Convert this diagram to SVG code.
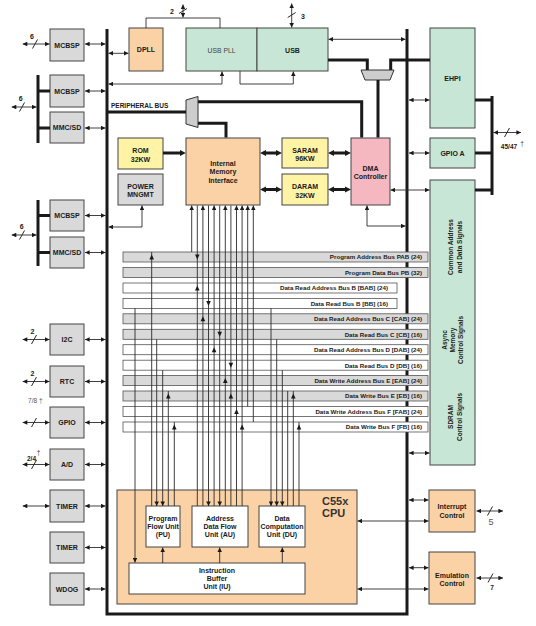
<svg xmlns="http://www.w3.org/2000/svg" width="536" height="626" viewBox="0 0 536 626">
<defs>
<marker id="a" viewBox="0 0 10 10" refX="10" refY="5" markerWidth="5" markerHeight="4.6" markerUnits="userSpaceOnUse" orient="auto-start-reverse"><path d="M0,0L10,5L0,10z" fill="#1a1a1a"/></marker>
<marker id="b" viewBox="0 0 10 10" refX="2" refY="5" markerWidth="6" markerHeight="6.5" markerUnits="userSpaceOnUse" orient="auto-start-reverse"><path d="M0,0L10,5L0,10z" fill="#1a1a1a"/></marker>
<style>
.t{font-family:"Liberation Sans",Arial,sans-serif;font-weight:bold;font-size:7px;fill:#1a1a1a;text-anchor:middle}
.gr{fill:#d9d9d9;stroke:#444;stroke-width:1}
.or{fill:#fbd2a5;stroke:#444;stroke-width:1}
.gn{fill:#c8e6d5;stroke:#444;stroke-width:1}
.ye{fill:#fff4a6;stroke:#444;stroke-width:1}
.pk{fill:#f5b7c0;stroke:#444;stroke-width:1}
.wh{fill:#fff;stroke:#444;stroke-width:1}
.mx{fill:#cdcdcd;stroke:#333;stroke-width:1}
.rg{fill:#d9d9d9;stroke:#555;stroke-width:0.8}
.rw{fill:#fff;stroke:#555;stroke-width:0.8}
.rt{font-family:"Liberation Sans",Arial,sans-serif;font-weight:bold;font-size:6.2px;fill:#1a1a1a;text-anchor:end}
.k{stroke:#1a1a1a;stroke-width:3;fill:none}
.n{stroke:#2a2a2a;stroke-width:0.9;fill:none}
.d{marker-start:url(#a);marker-end:url(#a)}
.e{marker-end:url(#a)}
.s{marker-start:url(#a)}
.bb{marker-start:url(#b);marker-end:url(#b)}
.be{marker-end:url(#b)}
.tri{fill:#1a1a1a}
.lb{font-family:"Liberation Sans",Arial,sans-serif;font-weight:bold;font-size:7px;fill:#1a1a1a;text-anchor:middle}
.lr{font-family:"Liberation Sans",Arial,sans-serif;font-size:6.5px;fill:#555;text-anchor:middle}
</style>
</defs>
<rect width="536" height="626" fill="#fff"/>

<g id="backbone" class="k">
<path d="M107,29V614H407V29"/>
</g>

<!-- left peripherals -->
<g id="mcbsp0"><rect class="gr" x="50" y="29" width="34" height="32"/><text class="t" x="67" y="47.5">MCBSP</text></g>
<g id="mcbsp1"><rect class="gr" x="50" y="75" width="34" height="32"/><text class="t" x="67" y="93.5">MCBSP</text></g>
<g id="mmcsd1"><rect class="gr" x="50" y="112" width="34" height="31"/><text class="t" x="67" y="130">MMC/SD</text></g>
<g id="mcbsp2"><rect class="gr" x="50" y="200" width="34" height="31"/><text class="t" x="67" y="218">MCBSP</text></g>
<g id="mmcsd2"><rect class="gr" x="50" y="237" width="34" height="31"/><text class="t" x="67" y="255">MMC/SD</text></g>
<g id="i2c"><rect class="gr" x="50" y="324" width="34" height="31"/><text class="t" x="67" y="342">I2C</text></g>
<g id="rtc"><rect class="gr" x="50" y="366" width="34" height="31"/><text class="t" x="67" y="384">RTC</text></g>
<g id="gpio"><rect class="gr" x="50" y="407" width="34" height="31"/><text class="t" x="67" y="425">GPIO</text></g>
<g id="ad"><rect class="gr" x="50" y="449" width="34" height="31"/><text class="t" x="67" y="467">A/D</text></g>
<g id="timer0"><rect class="gr" x="50" y="490" width="34" height="32"/><text class="t" x="67" y="508.5">TIMER</text></g>
<g id="timer1"><rect class="gr" x="50" y="532" width="34" height="31"/><text class="t" x="67" y="550">TIMER</text></g>
<g id="wdog"><rect class="gr" x="50" y="573" width="34" height="32"/><text class="t" x="67" y="591.5">WDOG</text></g>

<!-- top blocks -->
<g id="dpll"><rect class="or" x="129" y="28" width="34" height="43"/><text class="t" x="146" y="52">DPLL</text></g>
<g id="usbpll"><rect class="gn" x="186" y="28" width="71" height="43"/><text class="t" x="221.5" y="53" style="font-weight:normal;fill:#444;font-size:6.8px">USB PLL</text></g>
<g id="usb"><rect class="gn" x="257" y="28" width="71" height="43"/><text class="t" x="292.5" y="53">USB</text></g>
<g id="ehpi"><rect class="gn" x="430" y="28" width="45" height="100"/><text class="t" x="452.5" y="81">EHPI</text></g>
<g id="gpioa"><rect class="gn" x="430" y="138" width="45" height="30"/><text class="t" x="452.5" y="155.5">GPIO A</text></g>
<g id="extif"><rect class="gn" x="430" y="180" width="45" height="285"/>
<text class="t" font-size="6.5" style="font-size:6.5px" transform="translate(453,247) rotate(-90)">Common Address</text>
<text class="t" style="font-size:6.5px" transform="translate(461.5,247) rotate(-90)">and Data Signals</text>
<text class="t" style="font-size:6.5px" transform="translate(446.5,340) rotate(-90)">Async</text>
<text class="t" style="font-size:6.5px" transform="translate(455,340) rotate(-90)">Memory</text>
<text class="t" style="font-size:6.5px" transform="translate(463.3,340) rotate(-90)">Control Signals</text>
<text class="t" style="font-size:6.5px" transform="translate(452.5,417) rotate(-90)">SDRAM</text>
<text class="t" style="font-size:6.5px" transform="translate(461.5,417) rotate(-90)">Control Signals</text>
</g>
<g id="rom"><rect class="ye" x="118" y="138" width="45" height="31"/><text class="t" x="140.5" y="153">ROM</text><text class="t" x="140.5" y="161.5">32KW</text></g>
<g id="power"><rect class="gr" x="118" y="174" width="45" height="31"/><text class="t" x="140.5" y="188.5">POWER</text><text class="t" x="140.5" y="197">MNGMT</text></g>
<g id="imi"><rect class="or" x="186" y="138" width="74" height="67"/><text class="t" x="223" y="165.8">Internal</text><text class="t" x="223" y="174.2">Memory</text><text class="t" x="223" y="182.5">Interface</text></g>
<g id="saram"><rect class="ye" x="282" y="138" width="46" height="30"/><text class="t" x="305" y="152.5">SARAM</text><text class="t" x="305" y="161">96KW</text></g>
<g id="daram"><rect class="ye" x="282" y="174" width="46" height="31"/><text class="t" x="305" y="189">DARAM</text><text class="t" x="305" y="197.5">32KW</text></g>
<g id="dma"><rect class="pk" x="351" y="138" width="39" height="67"/><text class="t" x="370.5" y="170.5">DMA</text><text class="t" x="370.5" y="179">Controller</text></g>
<g id="mux-periph"><path class="mx" d="M186,100L198,96.5V127.5L186,124Z"/></g>
<g id="mux-usb"><path class="mx" d="M361,70H394L390,80H365Z"/></g>

<!-- buses -->
<g id="bus-pab"><rect class="rg" x="123" y="252" width="305" height="10"/><text class="rt" x="422" y="259.3">Program Address Bus PAB (24)</text></g>
<g id="bus-pb"><rect class="rg" x="123" y="267.5" width="305" height="10"/><text class="rt" x="422" y="274.8">Program Data Bus PB (32)</text></g>
<g id="bus-bab"><rect class="rw" x="123" y="283" width="274" height="10"/><text class="rt" x="388" y="290.3">Data Read Address Bus B [BAB] (24)</text></g>
<g id="bus-bb"><rect class="rw" x="123" y="298.4" width="274" height="10"/><text class="rt" x="388" y="305.7">Data Read Bus B [BB] (16)</text></g>
<g id="bus-cab"><rect class="rg" x="123" y="313.8" width="305" height="10"/><text class="rt" x="422" y="321.1">Data Read Address Bus C [CAB] (24)</text></g>
<g id="bus-cb"><rect class="rg" x="123" y="329.3" width="305" height="10"/><text class="rt" x="422" y="336.6">Data Read Bus C [CB] (16)</text></g>
<g id="bus-dab"><rect class="rw" x="123" y="344.7" width="305" height="10"/><text class="rt" x="422" y="352">Data Read Address Bus D [DAB] (24)</text></g>
<g id="bus-db"><rect class="rw" x="123" y="360.2" width="305" height="10"/><text class="rt" x="422" y="367.5">Data Read Bus D [DB] (16)</text></g>
<g id="bus-eab"><rect class="rg" x="123" y="375.6" width="305" height="10"/><text class="rt" x="422" y="382.9">Data Write Address Bus E [EAB] (24)</text></g>
<g id="bus-eb"><rect class="rg" x="123" y="391" width="305" height="10"/><text class="rt" x="422" y="398.3">Data Write Bus E [EB] (16)</text></g>
<g id="bus-fab"><rect class="rw" x="123" y="406.5" width="305" height="10"/><text class="rt" x="422" y="413.8">Data Write Address Bus F [FAB] (24)</text></g>
<g id="bus-fb"><rect class="rw" x="123" y="422" width="305" height="10"/><text class="rt" x="422" y="429.3">Data Write Bus F [FB] (16)</text></g>

<!-- CPU -->
<g id="cpu"><rect class="or" x="117" y="490" width="240" height="114"/><text x="322" y="505" style="font-family:'Liberation Sans',Arial,sans-serif;font-weight:bold;font-size:11px;fill:#333">C55x</text><text x="322" y="517" style="font-family:'Liberation Sans',Arial,sans-serif;font-weight:bold;font-size:11px;fill:#333">CPU</text></g>
<g id="pu"><rect class="wh" x="146" y="506" width="34" height="41"/><text class="t" x="163" y="520.8">Program</text><text class="t" x="163" y="529.1">Flow Unit</text><text class="t" x="163" y="537.4">(PU)</text></g>
<g id="au"><rect class="wh" x="192" y="506" width="56" height="41"/><text class="t" x="220" y="520.8">Address</text><text class="t" x="220" y="529.1">Data Flow</text><text class="t" x="220" y="537.4">Unit (AU)</text></g>
<g id="du"><rect class="wh" x="259" y="506" width="46" height="41"/><text class="t" x="282" y="520.8">Data</text><text class="t" x="282" y="529.1">Computation</text><text class="t" x="282" y="537.4">Unit (DU)</text></g>
<g id="iu"><rect class="wh" x="129" y="563" width="176" height="31"/><text class="t" x="217" y="572.5">Instruction</text><text class="t" x="217" y="580.8">Buffer</text><text class="t" x="217" y="589.1">Unit (IU)</text></g>
<g id="intctl"><rect class="or" x="429" y="490" width="46" height="42"/><text class="t" x="452" y="509">Interrupt</text><text class="t" x="452" y="517.5">Control</text></g>
<g id="emuctl"><rect class="or" x="429" y="552" width="46" height="52"/><text class="t" x="452" y="577.5">Emulation</text><text class="t" x="452" y="585.8">Control</text></g>

<g id="connectors">
<!-- peripheral to bus -->
<g class="n d">
<path d="M85,44H105.5"/><path d="M85,91H105.5"/><path d="M85,128H105.5"/><path d="M85,215.5H105.5"/><path d="M85,252.5H105.5"/>
<path d="M85,339.5H105.5"/><path d="M85,381.5H105.5"/><path d="M85,422.5H105.5"/><path d="M85,464.5H105.5"/><path d="M85,506H105.5"/><path d="M85,547.5H105.5"/><path d="M85,589H105.5"/>
<path d="M22.7,44H49.5"/><path d="M11.7,107H36.5"/><path d="M11.7,235H36.5"/>
<path d="M22.7,339.5H49.5"/><path d="M22.7,381.5H49.5"/><path d="M22.7,422.5H49.5"/><path d="M22.7,464.5H49.5"/><path d="M22.7,506H49.5"/>
<path d="M108.5,53.3H128.5"/>
<path d="M183,4.5V17.5"/><path d="M291.7,3.5V27.5"/>
<path d="M108.5,84H222V71.5"/>
<path d="M328.5,39.3H405.5"/>
<path d="M409,100H429.5"/><path d="M409,153H429.5"/>
<path d="M493.5,132.5H521"/>
<path d="M390.5,190H429.5"/>
<path d="M367,205.5V226H405.5"/>
<path d="M142,205.5V227H108.5"/>
<path d="M409,453H429.5"/>
<path d="M409,500H428.5"/><path d="M409,567.7H428.5"/>
<path d="M357.5,521H428.5"/><path d="M357.5,589H428.5"/>
<path d="M476.5,511H503"/><path d="M476.5,578H503"/>
</g>
<path class="n e" d="M240,71V84H293.3V71.5"/>
<path class="n" d="M146,28V18H220V28"/>
<!-- slashes -->
<g class="n" style="stroke-width:1">
<path d="M32.5,48.5L37.5,39.5"/><path d="M19.5,111.5L24.5,102.5"/><path d="M19.5,239.5L24.5,230.5"/>
<path d="M31.5,344L36.5,335"/><path d="M31.5,386L36.5,377"/><path d="M31.5,427L36.5,418"/><path d="M31.5,469L36.5,460"/>
<path d="M179,13.5L187,8.5"/><path d="M287.7,17.5L295.7,12.5"/>
<path d="M504.5,137L509.5,128"/><path d="M487.5,515.5L492.5,506.5"/><path d="M488,582.5L493,573.5"/>
</g>
<!-- thick -->
<g class="k">
<path d="M38,75V143"/><path d="M38,91H50"/><path d="M38,128H50"/>
<path d="M38,200V266"/><path d="M38,215.5H50"/><path d="M38,252.5H50"/>
<path d="M328,60H367.3V70"/><path d="M430,60H390.7V70"/><path d="M378,80V137.5"/>
<path d="M108,112H186"/><path d="M198,101.7H361.7V137.5"/><path d="M198,123.3H226V137.5"/>
<path d="M475,100H492"/><path d="M492,96V195"/><path d="M475,153H492"/><path d="M475,190H492"/>
</g>
<path class="k be" d="M163,153H181"/>
<g class="k bb">
<path d="M264.8,153H277.2"/><path d="M264.8,189.5H277.2"/><path d="M332.8,153H346.2"/><path d="M332.8,189.5H346.2"/>
</g>
<!-- internal bus verticals -->
<g class="n">
<path class="s" d="M191.7,205.5V252"/>
<path d="M197.3,205.5V506"/>
<path class="s" d="M202.9,205.5V506"/>
<path class="e" d="M208.5,205.5V506"/>
<path class="s" d="M214.1,205.5V506"/>
<path class="e" d="M219.7,205.5V506"/>
<path class="s" d="M225.3,205.5V506"/>
<path d="M230.9,205.5V506"/>
<path class="s" d="M236.5,205.5V506"/>
<path class="s" d="M242.1,205.5V506"/>
<path class="s" d="M247.7,205.5V406.5"/>
<path class="s" d="M253.3,205.5V422"/>
<path d="M151.7,252V506"/>
<path class="e" d="M156.7,339.3V506"/>
<path class="e" d="M162.7,370.2V506"/>
<path d="M168.3,391V506"/>
<path d="M174.3,422V506"/>
<path class="e" d="M135,308.4V562.5"/>
<path class="e" d="M271,308.4V506"/>
<path class="e" d="M276.7,339.3V506"/>
<path class="e" d="M282.3,370.2V506"/>
<path d="M287.7,391V506"/>
<path d="M293.3,391V506"/>
<path d="M299,422V506"/>
<path class="e" d="M162.7,563V547.5"/>
<path class="e" d="M219.7,563V547.5"/>
<path class="e" d="M282.3,563V547.5"/>
</g>
<g class="tri">
<path d="M149.4,259.5L151.7,254.5L154,259.5Z"/>
<path d="M195,254.5L197.3,259.5L199.6,254.5Z"/>
<path d="M195,290.5L197.3,285.5L199.6,290.5Z"/>
<path d="M206.2,300.9L208.5,305.9L210.8,300.9Z"/>
<path d="M200.6,321.3L202.9,316.3L205.2,321.3Z"/>
<path d="M217.4,331.8L219.7,336.8L222,331.8Z"/>
<path d="M211.8,352.2L214.1,347.2L216.4,352.2Z"/>
<path d="M228.6,362.7L230.9,367.7L233.2,362.7Z"/>
<path d="M223,383.1L225.3,378.1L227.6,383.1Z"/>
<path d="M166,398.5L168.3,393.5L170.6,398.5Z"/>
<path d="M228.6,398.5L230.9,393.5L233.2,398.5Z"/>
<path d="M291,398.5L293.3,393.5L295.6,398.5Z"/>
<path d="M234.2,414L236.5,409L238.8,414Z"/>
<path d="M172,429.5L174.3,424.5L176.6,429.5Z"/>
<path d="M239.8,429.5L242.1,424.5L244.4,429.5Z"/>
<path d="M296.7,429.5L299,424.5L301.3,429.5Z"/>
</g>
<!-- connector labels -->
<text class="lb" x="32" y="38.5">6</text>
<text class="lb" x="20.7" y="101">6</text>
<text class="lb" x="21.7" y="229">6</text>
<text class="lb" x="32.5" y="334">2</text>
<text class="lb" x="32.5" y="376">2</text>
<text class="lr" x="35.3" y="403">7/8 †</text>
<text class="lb" x="31.5" y="460.5" style="font-size:6.5px">2/4</text>
<text class="lr" x="38.5" y="455" style="fill:#333">†</text>
<text class="lb" x="172" y="13.5">2</text>
<text class="lb" x="303" y="18.5">3</text>
<text x="111" y="107.5" style="font-family:'Liberation Sans',Arial,sans-serif;font-weight:bold;font-size:6.5px;fill:#1a1a1a">PERIPHERAL BUS</text>
<text class="lb" x="509" y="148.5" style="font-size:6.5px">45/47</text>
<text class="lr" x="522" y="146" style="fill:#333">†</text>
<text class="lr" x="491" y="524.5" style="font-size:9px">5</text>
<text class="lb" x="492" y="590" style="font-size:6.5px">7</text>
</g>
</svg>
